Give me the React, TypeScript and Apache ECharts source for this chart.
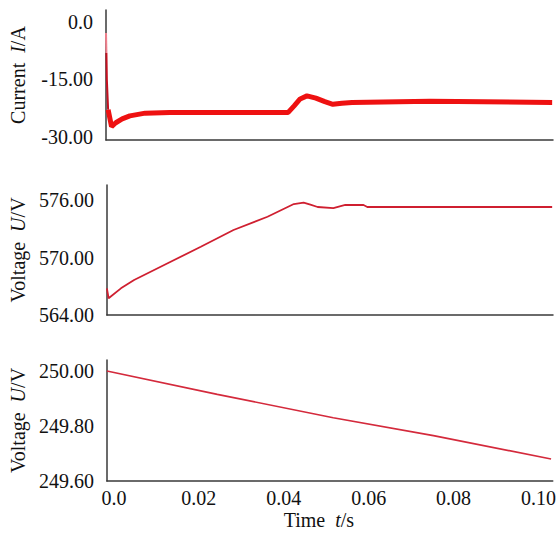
import React, { useEffect, useRef } from "react";
import * as echarts from "echarts";

// Panel 1: current I/A — initial spike and the settled (noisy) band
const spikeTopTime = [0, 0.0001];
const spikeTopValues = [-2.9, -8.1];
const spikeTime = [0.0001, 0.0002, 0.0005];
const spikeValues = [-8.1, -15.1, -22.9];
const currentTime = [0.0005, 0.0013, 0.0023, 0.0038, 0.0056, 0.0092, 0.015, 0.0428, 0.0442, 0.0456, 0.0472, 0.0493, 0.0514, 0.0533, 0.0554, 0.0578, 0.0761, 0.1048];
const currentValues = [-22.9, -27.3, -26.3, -25.3, -24.5, -23.8, -23.6, -23.6, -21.9, -20.1, -19.3, -19.9, -20.8, -21.5, -21.2, -21.0, -20.7, -21.0];

// Panel 2: voltage U/V
const voltageATime = [0, 0.0004, 0.0033, 0.0064, 0.0143, 0.0221, 0.0298, 0.0378, 0.044, 0.0463, 0.0479, 0.0496, 0.0533, 0.0561, 0.0604, 0.0613, 0.1048];
const voltageAValues = [566.79, 565.75, 566.79, 567.66, 569.41, 571.14, 572.89, 574.28, 575.61, 575.75, 575.55, 575.3, 575.19, 575.51, 575.51, 575.3, 575.3];

// Panel 3: voltage U/V
const voltageBTime = [0, 0.026, 0.0533, 0.0769, 0.1046];
const voltageBValues = [250.0, 249.915, 249.83, 249.765, 249.68];

// Tick labels
const xTicks = [0, 0.02, 0.04, 0.06, 0.08, 0.1];
const currentTicks = [-30, -15, 0];
const voltageATicks = [564, 570, 576];
const voltageBTicks = [249.6, 249.8, 250.0];

const FONT = "Liberation Serif";
const AXIS_COLOR = "#3a3a3a";
const FS = 20;

const pairs = (t: number[], v: number[]) => t.map((x, i) => [x, v[i]]);

export default function App() {
  const ref = useRef<HTMLDivElement>(null);
  useEffect(() => {
    if (!ref.current) return;
    const chart = echarts.init(ref.current, null, { renderer: "svg" });
    const axisLine = { show: true, onZero: false, lineStyle: { color: AXIS_COLOR, width: 1.5 } };
    const yFmt = (v: number) => (v === 0 ? "0.0" : v.toFixed(2));
    const nameRich = {
      i: { fontFamily: FONT, fontSize: FS, fontStyle: "italic", color: "#111" },
    };
    const mkX = (gi: number, showLabel: boolean) => ({
      type: "value",
      gridIndex: gi,
      min: 0,
      max: 0.105,
      axisLine,
      axisTick: { show: false },
      splitLine: { show: false },
      axisLabel: showLabel
        ? {
            show: true,
            customValues: xTicks,
            formatter: (v: number) => (v === 0 ? "0.0" : v.toFixed(2)),
            fontFamily: FONT,
            fontSize: FS,
            color: "#111",
            margin: 7,
            padding: [0, 0, 0, 14],
          }
        : { show: false },
      name: showLabel ? "Time  {i|t}/s" : "",
      nameLocation: "middle",
      nameGap: 29,
      nameTextStyle: { fontFamily: FONT, fontSize: FS, color: "#111", padding: [0, 22, 0, 0], rich: nameRich },
    });
    const mkY = (gi: number, min: number, max: number, ticks: number[], name: string) => ({
      type: "value",
      gridIndex: gi,
      min,
      max,
      axisLine,
      axisTick: { show: false },
      splitLine: { show: false },
      axisLabel: {
        show: true,
        customValues: ticks,
        formatter: yFmt,
        fontFamily: FONT,
        fontSize: FS,
        color: "#111",
        margin: 13,
      },
      name,
      nameLocation: "middle",
      nameGap: 78,
      nameTextStyle: { fontFamily: FONT, fontSize: FS, color: "#111", rich: nameRich },
    });
    const line = (xi: number, t: number[], v: number[], color: string, width: number) => ({
      type: "line",
      xAxisIndex: xi,
      yAxisIndex: xi,
      data: pairs(t, v),
      showSymbol: false,
      lineStyle: { color, width },
      itemStyle: { color },
    });
    chart.setOption({
      animation: false,
      backgroundColor: "#ffffff",
      grid: [
        { left: 106, right: 6, top: 10, height: 130 },
        { left: 106, right: 6, top: 185, height: 130 },
        { left: 106, right: 6, top: 360, height: 121 },
      ],
      xAxis: [mkX(0, false), mkX(1, false), mkX(2, true)],
      yAxis: [
        mkY(0, -30.8, 3.1, currentTicks, "Current  {i|I}/A"),
        mkY(1, 564, 577.6, voltageATicks, "Voltage  {i|U}/V"),
        mkY(2, 249.6, 250.04, voltageBTicks, "Voltage  {i|U}/V"),
      ],
      series: [
        line(0, currentTime, currentValues, "#ee1111", 5),
        line(0, spikeTopTime, spikeTopValues, "#f07f8c", 2),
        line(0, spikeTime, spikeValues, "#c41020", 2),
        line(1, voltageATime, voltageAValues, "#cf1f30", 1.8),
        line(2, voltageBTime, voltageBValues, "#d42a3c", 1.6),
      ],
    });
    return () => chart.dispose();
  }, []);
  return (
    <div
      ref={ref}
      style={{ position: "fixed", left: 0, top: 0, width: 559, height: 538, background: "#fff" }}
    />
  );
}
